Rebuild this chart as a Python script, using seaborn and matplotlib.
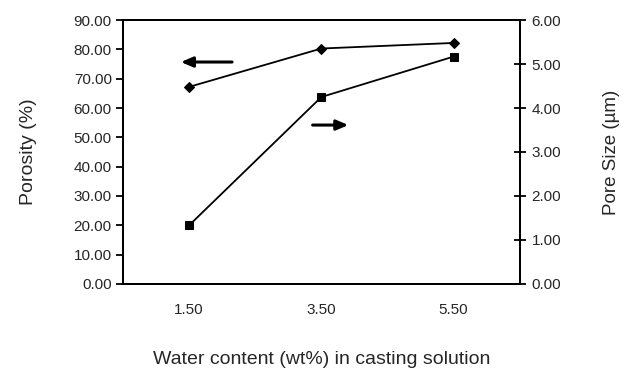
import matplotlib
matplotlib.use("Agg")
import matplotlib.pyplot as plt
import seaborn as sns
import pandas as pd

water = [1.50, 3.50, 5.50]
water_labels = ["1.50", "3.50", "5.50"]
porosity = [67.2, 80.3, 82.2]
pore_size = [1.33, 4.25, 5.17]

df = pd.DataFrame({"water": water, "porosity": porosity, "pore": pore_size})

sns.set_style("white")
plt.rcParams['font.family'] = ['Liberation Sans', 'DejaVu Sans']

fig = plt.figure(figsize=(6.24, 3.72), dpi=100)
ax = fig.add_axes([0.197, 0.237, 0.636, 0.709])
ax2 = ax.twinx()

sns.lineplot(data=df, x="water", y="porosity", ax=ax, color="black", marker="D",
             markersize=5.5, linewidth=1.3, markeredgecolor="black")
sns.lineplot(data=df, x="water", y="pore", ax=ax2, color="black", marker="s",
             markersize=6, linewidth=1.3, markeredgecolor="black")

ax.set_xlim(0.5, 6.5)
ax.set_ylim(0, 90)
ax2.set_ylim(0, 6)
ax.set_yticks([i * 10 for i in range(10)])
ax.set_yticklabels([f"{i*10:.2f}" for i in range(10)])
ax2.set_yticks(range(7))
ax2.set_yticklabels([f"{i:.2f}" for i in range(7)])
ax.set_xticks(water)
ax.set_xticklabels(water_labels)
ax.set_xticks([0.5, 2.5, 4.5, 6.5], minor=True)
ax.tick_params(axis="x", which="major", length=0, pad=14, labelsize=11)
ax.tick_params(axis="x", which="minor", length=5, width=1.3, direction="out", color="black")
ax.tick_params(axis="y", length=5, width=1.3, direction="out", color="black", labelsize=11, pad=3)
ax2.tick_params(axis="y", length=9, width=1.3, direction="inout", color="black", labelsize=11, pad=4)

for a in (ax, ax2):
    for s in a.spines.values():
        s.set_visible(True)
        s.set_color("black")
        s.set_linewidth(1.4)

ax.set_xlabel("Water content (wt%) in casting solution", fontsize=14, va="center")
ax.xaxis.set_label_coords(0.5, -0.288)
ax.set_ylabel("Porosity (%)", fontsize=14, va="center")
ax.yaxis.set_label_coords(-0.239, 0.5)
ax2.set_ylabel("Pore Size (\u00b5m)", fontsize=13.5, va="center")
ax2.yaxis.set_label_coords(1.232, 0.5)

ax.annotate("", xy=(0.139, 0.841), xytext=(0.282, 0.841), xycoords="axes fraction",
            arrowprops=dict(arrowstyle="-|>,head_length=0.7,head_width=0.3", color="black", lw=2.2))
ax.annotate("", xy=(0.575, 0.602), xytext=(0.471, 0.602), xycoords="axes fraction",
            arrowprops=dict(arrowstyle="-|>,head_length=0.7,head_width=0.3", color="black", lw=2.2))

fig.savefig("out.png", dpi=100)
